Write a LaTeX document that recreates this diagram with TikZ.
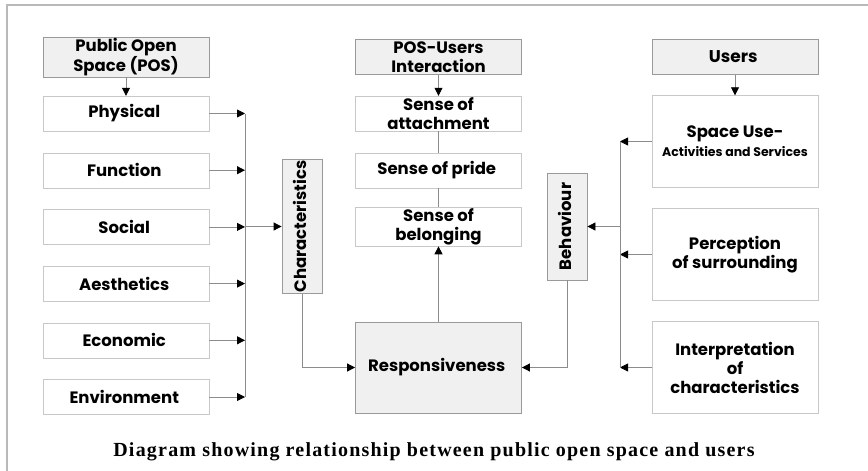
\documentclass[tikz,border=0pt]{standalone}
\usepackage{fontspec}
\usetikzlibrary{positioning,calc,arrows.meta}
\newfontfamily\gothic{Poppins}
\newfontfamily\capfont[LetterSpace=6]{Liberation Serif}
\definecolor{boxline}{HTML}{C8C8C8}
\definecolor{headline}{HTML}{9A9A9A}
\definecolor{headfill}{HTML}{F0F0F0}
\definecolor{wire}{HTML}{8C8C8C}
\tikzstyle{item} = [ draw=boxline, rectangle, fill=white, minimum width=166pt, minimum height=35pt, inner sep=1pt, align=center, font=\gothic\bfseries\fontsize{16.5}{19}\selectfont ]
\tikzstyle{head} = [ item, draw=headline, fill=headfill, line width=0.8pt ]
\tikzstyle{tall} = [ item, minimum height=92pt ]
\tikzstyle{side} = [ head, minimum width=40pt ]
\tikzstyle{wireline} = [ draw=wire, line width=0.8pt ]
\tikzstyle{edge} = [ wireline, -{Triangle[length=8pt, width=8pt, color=black]} ]

\begin{document}
\begin{tikzpicture}[x=1pt, y=-1pt]
	\useasboundingbox (0,0) rectangle (868,471);
	\draw[gray!55, line width=2pt] (7,480) -- (7,5) -- (880,5);

	% left column
	\node[head] (pos) at ( 126, 57 ) { Public Open\\ Space (POS) };
	\node[item] (phys) at ( 126, 113.5 ) { Physical };
	\node[item] (func) at ( 126, 170.2 ) { Function };
	\node[item] (soc) at ( 126, 226.9 ) { Social };
	\node[item] (aes) at ( 126, 283.6 ) { Aesthetics };
	\node[item] (eco) at ( 126, 340.3 ) { Economic };
	\node[item] (env) at ( 126, 397 ) { Environment };
	\coordinate (lbus) at ( 245, 0 );
	\node[side, minimum height=129pt] (char) at ( 302, 226.5 ) { \rotatebox{90}{Characteristics} };

	% middle column
	\node[head] (inter) at ( 438.5, 57 ) { POS-Users\\ Interaction };
	\node[item] (att) at ( 438.5, 113.5 ) { Sense of\\ attachment };
	\node[item] (pride) at ( 438.5, 170.2 ) { Sense of pride };
	\node[item] (bel) at ( 438.5, 226.9 ) { Sense of\\ belonging };
	\node[head, minimum height=91pt] (resp) at ( 438.5, 367.5 ) { Responsiveness };

	% right column
	\node[head] (users) at ( 735, 57 ) { \fontsize{17}{20}\selectfont Users };
	\node[tall] (spu) at ( 735, 141.5 ) { Space Use-\\ {\fontsize{12.5}{15}\selectfont Activities and Services} };
	\node[tall] (perc) at ( 735, 254.5 ) { Perception\\ of surrounding };
	\node[tall] (intp) at ( 735, 367.5 ) { Interpretation\\ of\\ characteristics };
	\coordinate (rbus) at ( 620, 0 );
	\node[side, minimum height=107pt] (beh) at ( 567, 226.5 ) { \rotatebox{90}{Behaviour} };

	% left connectors
	\foreach \n in {phys,func,soc,aes,eco,env}
		\draw[edge] (\n.east) -- (\n.east -| lbus);
	\draw[wireline] (phys.east -| lbus) -- (env.east -| lbus);
	\draw[edge] (char.west -| lbus) -- (char.west);
	\draw[edge] (char.south) |- (resp.west);

	% middle connectors
	\draw[edge] (pos.south) -- (phys.north);
	\draw[edge] (inter.south) -- (att.north);
	\draw[wireline] (att) -- (pride);
	\draw[wireline] (pride) -- (bel);
	\draw[edge] (resp.north) -- (bel.south);

	% right connectors
	\draw[edge] (users.south) -- (spu.north);
	\foreach \n in {spu,perc,intp}
		\draw[edge] (\n.west) -- (\n.west -| rbus);
	\draw[wireline] (spu.west -| rbus) -- (intp.west -| rbus);
	\draw[edge] (beh.east -| rbus) -- (beh.east);
	\draw[edge] (beh.south) |- (resp.east);

	\node[font=\capfont\bfseries\fontsize{20}{22}\selectfont] (caption) at ( 434, 452 ) { Diagram showing relationship between public open space and users };
\end{tikzpicture}
\end{document}
